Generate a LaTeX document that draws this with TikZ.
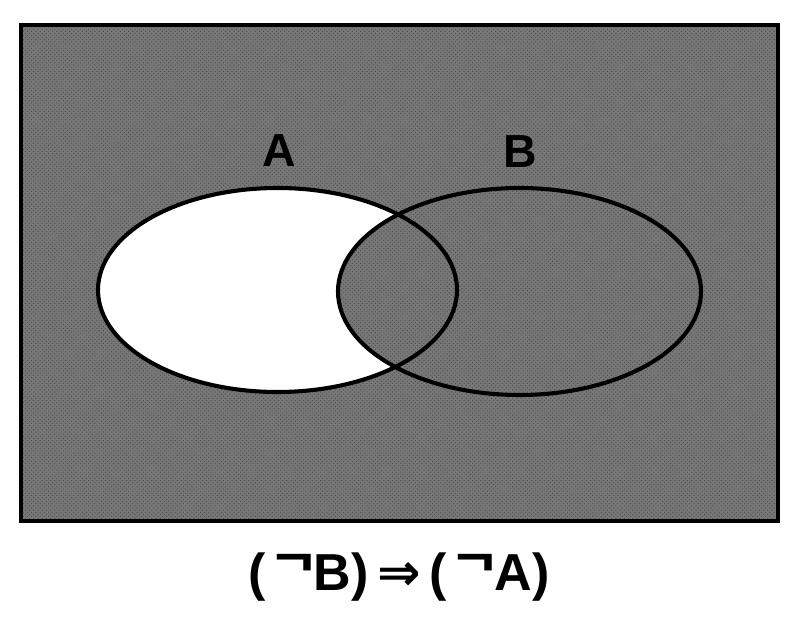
\documentclass[tikz,border=0pt]{standalone}
\usepackage{fontspec}
\setmainfont{Liberation Sans}
\newfontfamily\symfont{DejaVu Sans}
\usetikzlibrary{patterns}
\definecolor{vnNoise}{gray}{0.47}
\tikzset{
  % pixel-like units, y running down as in the scan
  every picture/.append style = {x=0.025cm, y=-0.025cm},
  setfill/.style   = {fill=vnNoise},
  setline/.style   = {draw=black, line width=2.9pt},
  framebox/.style  = {draw=black, line width=3.4pt},
  setlbl/.style    = {font=\bfseries\fontsize{33}{36}\selectfont, inner sep=0},
  formula/.style   = {font=\bfseries\fontsize{37}{42}\selectfont, inner sep=0},
}
\newcommand{\vnneg}{\raisebox{0.3em}{\scalebox{1.3}[1]{¬}}}

\begin{document}
\begin{tikzpicture}
  \useasboundingbox (0,0) rectangle (792,624);
  % --- universe ----------------------------------------------------------
  \fill[setfill] (21,25) rectangle (778,521);
  \fill[pattern=crosshatch dots, pattern color=black!70] (21,25) rectangle (778,521);
  % --- A without B is left white -----------------------------------------
  \fill[white] (277.5,290) ellipse [x radius=179.5, y radius=102];
  \fill[setfill] (519.5,291.5) ellipse [x radius=181.5, y radius=103.5];
  \fill[pattern=crosshatch dots, pattern color=black!70] (519.5,291.5) ellipse [x radius=181.5, y radius=103.5];
  \draw[setline] (277.5,290) ellipse [x radius=179.5, y radius=102];
  \draw[setline] (519.5,291.5) ellipse [x radius=181.5, y radius=103.5];
  \draw[framebox] (21,25) rectangle (778,521);
  % --- labels --------------------------------------------------------------
  \node[setlbl] (lblA) at (279,151) {A};
  \node[setlbl] (lblB) at (520,152) {B};
  \node[formula] (rule) at (399,577) {(\,\vnneg B)\,{\symfont ⇒}\,(\,\vnneg A)};
\end{tikzpicture}
\end{document}
